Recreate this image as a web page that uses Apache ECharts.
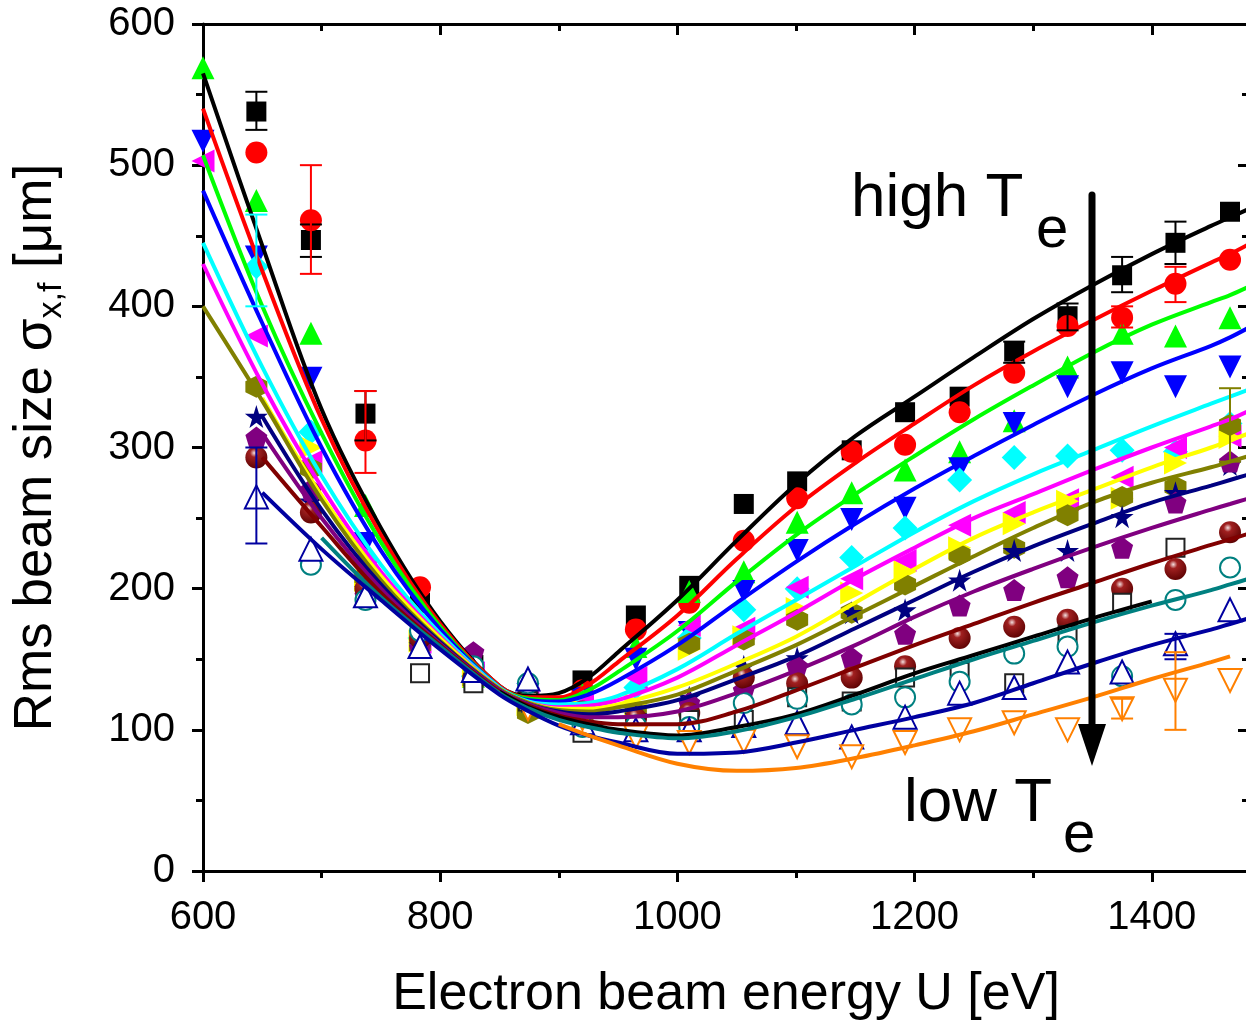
<!DOCTYPE html>
<html>
<head>
<meta charset="utf-8">
<script src="https://cdn.jsdelivr.net/npm/echarts@6/dist/echarts.min.js"></script>
<style>
  html, body { margin: 0; padding: 0; background: #fff; }
  #chart { width: 1246px; height: 1022px; }
</style>
</head>
<body>
<div id="chart"></div>
<script>
// measured beam energies (eV)
const energies = [600, 645, 691, 737, 783, 828, 874, 920, 965, 1010, 1056, 1101, 1147, 1192, 1238, 1284, 1329, 1375, 1420, 1466]

// measured rms beam size (um), one list per electron temperature
const sqBlack    = [null, 538, 447, 324, 190, 146, 124, 135, 181, 202, 260, 276, 298, 325, 336, 368, 393, 422, 445, 467]
const circRed    = [null, 509, 461, 305, 201, 142, 122, 128, 171, 190, 234, 264, 297, 302, 325, 353, 386, 392, 416, 433]
const triGreen   = [569, 475, 381, 259, 172, 138, 124, 125, 159, 198, 212, 247, 268, 284, 297, 319, 357, 381, 379, 392]
const triBlue    = [517, 435, 349, 232, 168, 140, 125, 122, 150, 169, 198, 227, 249, 257, 285, 317, 343, 353, 343, 357]
const diaCyan    = [null, 428, 311, 220, 165, 138, 123, 120, 130, 165, 185, 200, 222, 243, 277, 293, 294, 298, 297, 317]
const triMagenta = [503, 379, 290, 212, 162, 140, 122, 118, 137, 174, 172, 201, 207, 220, 245, 254, 263, 279, 300, 308]
const triYellow  = [null, null, 300, 206, 163, 138, 118, 114, 118, 157, 166, 186, 197, 212, 229, 246, 262, 264, 289, 307]
const hexOlive   = [null, 343, 285, 208, 160, 135, 112, 110, 112, 161, 164, 178, 183, 203, 224, 229, 252, 265, 272, 316]
const starNavy   = [null, 322, 262, 200, 160, 135, 120, 108, 110, 123, 145, 151, 183, 185, 206, 227, 227, 251, 268, 288]
const pentPurple = [null, 307, 270, 195, 158, 155, 125, 112, 106, 119, 128, 145, 151, 168, 188, 199, 208, 229, 261, 290]
const sphMaroon  = [null, 293, 254, 200, 165, 137, 123, 113, 108, 112, 137, 133, 137, 145, 165, 173, 178, 200, 214, 240]
const sqOpen     = [null, null, null, null, 140, 133, 120, 98, 102, 107, 107, 123, 120, 137, 141, 133, 167, 190, 229, null]
const circTeal   = [null, null, 217, 192, 170, 145, 133, 102, 103, 102, 119, 122, 118, 123, 134, 154, 159, 138, 192, 215]
const triOpen    = [null, 265, 228, 195, 159, 142, 136, 105, 100, 100, 103, 105, 95, 109, 126, 130, 148, 141, 161, 185]
const triOrange  = [null, null, null, null, null, null, 115, 108, 95, 91, 92, 88, 81, 91, 100, 105, 100, 115, 128, 135]

// error bars: [series index, energy index, low, high]
const errorBars = [
  [0, 1, 525, 552], [0, 2, 435, 458], [0, 3, 305, 340], [0, 15, 360, 375], [0, 16, 383, 402], [0, 17, 410, 435], [0, 18, 430, 460],
  [1, 2, 423, 500], [1, 3, 282, 340], [1, 17, 385, 400], [1, 18, 403, 428],
  [4, 1, 400, 465],
  [7, 19, 290, 342],
  [13, 1, 232, 300], [13, 18, 150, 168],
  [14, 17, 108, 122], [14, 18, 100, 155]
]

// model curves
const fitEnergies = [600, 650, 700, 750, 800, 850, 875, 900, 925, 950, 1000, 1050, 1100, 1150, 1200, 1250, 1300, 1350, 1400, 1450, 1466, 1482]
const fitBlack    = [565, 443, 327, 243, 177, 131, 124, 126, 137, 155, 192, 234, 274, 308, 336, 364, 391, 415, 437, 457, 463, 469]
const fitRed      = [540, 425, 320, 238, 175, 131, 123, 123, 132, 148, 181, 221, 258, 289, 317, 344, 368, 390, 411, 431, 437, 444]
const fitGreen    = [507, 400, 310, 233, 173, 130, 122, 121, 128, 141, 170, 205, 238, 267, 294, 320, 344, 367, 387, 403, 408, 414]
const fitBlue     = [482, 388, 300, 227, 171, 130, 121, 120, 125, 135, 160, 190, 219, 246, 271, 294, 316, 337, 356, 372, 378, 385]
const fitCyan     = [445, 357, 280, 217, 168, 130, 120, 118, 119, 124, 143, 168, 192, 216, 240, 262, 281, 298, 315, 331, 336, 341]
const fitMagenta  = [430, 345, 272, 212, 166, 129, 119, 116, 117, 121, 137, 160, 183, 207, 229, 250, 267, 284, 300, 315, 320, 326]
const fitYellow   = [null, 335, 266, 209, 165, 129, 119, 115, 115, 118, 130, 147, 166, 190, 214, 236, 254, 270, 286, 300, 305, 310]
const fitOlive    = [400, 333, 263, 206, 163, 129, 119, 114, 113, 116, 125, 142, 160, 181, 202, 223, 243, 261, 275, 286, 290, 294]
const fitNavy     = [null, 322, 256, 203, 162, 128, 118, 113, 111, 113, 121, 136, 152, 172, 192, 212, 230, 246, 261, 273, 277, 281]
const fitPurple   = [null, 310, 250, 200, 161, 128, 118, 112, 109, 109, 113, 126, 142, 160, 180, 198, 214, 229, 243, 256, 260, 264]
const fitMaroon   = [null, 293, 244, 197, 160, 127, 117, 110, 106, 104, 104, 113, 128, 144, 160, 175, 190, 204, 218, 231, 235, 239]
const fitBlack2   = [null, null, null, null, null, 127, 116, 109, 104, 100, 96, 102, 111, 125, 140, 153, 166, 179, 191, null, null, null]
const fitTeal     = [null, null, 236, 194, 159, 126, 115, 107, 102, 98, 94, 99, 109, 122, 136, 150, 163, 176, 188, 199, 203, 207]
const fitDarkBlue = [null, 268, 228, 192, 157, 125, 113, 103, 96, 91, 83, 84, 91, 100, 109, 119, 133, 147, 160, 171, 175, 179]
const fitOrange   = [null, null, null, null, null, null, null, 104, 96, 89, 76, 71, 73, 80, 89, 99, 111, 123, 136, 148, 152, null]

const hexagon = 'path://M50,0 L93,25 L93,75 L50,100 L7,75 L7,25 Z'
const star = 'path://M50,0 L61,35 L98,35 L68,57 L79,91 L50,70 L21,91 L32,57 L2,35 L39,35 Z'
const pentagon = 'path://M50,0 L98,36 L80,95 L20,95 L2,36 Z'
const sphere = {
  type: 'radial', x: 0.4, y: 0.3, r: 0.75,
  colorStops: [{ offset: 0, color: '#f4e0e0' }, { offset: 0.25, color: '#a02020' }, { offset: 1, color: '#5a0000' }]
}

const markerSets = [
  { data: sqBlack, symbol: 'rect', color: '#000000', size: 20 },
  { data: circRed, symbol: 'circle', color: '#ff0000', size: 22 },
  { data: triGreen, symbol: 'triangle', color: '#00ff00', size: 23 },
  { data: triBlue, symbol: 'triangle', rotate: 180, color: '#0000ff', size: 23 },
  { data: diaCyan, symbol: 'diamond', color: '#00ffff', size: 25 },
  { data: triMagenta, symbol: 'triangle', rotate: 90, color: '#ff00ff', size: 23 },
  { data: triYellow, symbol: 'triangle', rotate: -90, color: '#ffff00', size: 23 },
  { data: hexOlive, symbol: hexagon, color: '#808000', size: 22 },
  { data: starNavy, symbol: star, color: '#000080', size: 23 },
  { data: pentPurple, symbol: pentagon, color: '#800080', size: 22 },
  { data: sphMaroon, symbol: 'circle', color: '#800000', fill: sphere, size: 22 },
  { data: sqOpen, symbol: 'rect', color: '#222222', hollow: true, size: 18 },
  { data: circTeal, symbol: 'circle', color: '#008080', hollow: true, size: 20 },
  { data: triOpen, symbol: 'triangle', color: '#0000a0', hollow: true, size: 23 },
  { data: triOrange, symbol: 'triangle', rotate: 180, color: '#ff8000', hollow: true, size: 23 }
]

const fitSets = [
  { data: fitBlack, color: '#000000' },
  { data: fitRed, color: '#ff0000' },
  { data: fitGreen, color: '#00ff00' },
  { data: fitBlue, color: '#0000ff' },
  { data: fitCyan, color: '#00ffff' },
  { data: fitMagenta, color: '#ff00ff' },
  { data: fitYellow, color: '#ffff00' },
  { data: fitOlive, color: '#808000' },
  { data: fitNavy, color: '#000080' },
  { data: fitPurple, color: '#800080' },
  { data: fitMaroon, color: '#800000' },
  { data: fitBlack2, color: '#000000' },
  { data: fitTeal, color: '#008080' },
  { data: fitDarkBlue, color: '#0000a0' },
  { data: fitOrange, color: '#ff8000' }
]

const font = "'Liberation Sans', Arial, Helvetica, sans-serif"

const pairs = (xsArr, ys) => xsArr.map((x, i) => [x, ys[i]]).filter(p => p[1] != null)

const scatterSeries = markerSets.map(m => ({
  type: 'scatter',
  symbol: m.symbol,
  symbolSize: m.size,
  symbolRotate: m.rotate || 0,
  z: 2,
  silent: true,
  itemStyle: m.hollow
    ? { color: '#ffffff', borderColor: m.color, borderWidth: 2, opacity: 1 }
    : { color: m.fill || m.color, opacity: 1 },
  data: pairs(energies, m.data)
}))

const lineSeries = fitSets.map(f => ({
  type: 'line',
  smooth: 0.35,
  showSymbol: false,
  z: 3,
  silent: true,
  lineStyle: { color: f.color, width: 4 },
  data: pairs(fitEnergies, f.data)
}))

const errorSeries = {
  type: 'custom',
  z: 4,
  silent: true,
  renderItem(params, api) {
    const lo = api.coord([api.value(0), api.value(1)])
    const hi = api.coord([api.value(0), api.value(2)])
    const c = markerSets[api.value(3)].color
    const st = { stroke: c, lineWidth: 2 }
    return {
      type: 'group',
      children: [
        { type: 'line', shape: { x1: lo[0], y1: lo[1], x2: hi[0], y2: hi[1] }, style: st },
        { type: 'line', shape: { x1: lo[0] - 11, y1: lo[1], x2: lo[0] + 11, y2: lo[1] }, style: st },
        { type: 'line', shape: { x1: hi[0] - 11, y1: hi[1], x2: hi[0] + 11, y2: hi[1] }, style: st }
      ]
    }
  },
  encode: { x: 0, y: [1, 2] },
  data: errorBars.map(e => [energies[e[1]], e[2], e[3], e[0]])
}

const axisLine = { show: true, onZero: false, lineStyle: { color: '#000', width: 3 } }

const chart = echarts.init(document.getElementById('chart'), null, { renderer: 'canvas' })

chart.setOption({
  backgroundColor: '#ffffff',
  animation: false,
  grid: { left: 203, top: 24, width: 1046, height: 847, outerBoundsMode: 'none', containLabel: false },
  xAxis: [
    {
      type: 'value', min: 600, max: 1482, interval: 200,
      axisLine,
      axisTick: { show: true, inside: false, length: 11, lineStyle: { width: 3 } },
      minorTick: { show: true, splitNumber: 2, length: 7, lineStyle: { color: '#000', width: 3 } },
      splitLine: { show: false },
      axisLabel: {
        margin: 27, fontSize: 40, color: '#000', fontFamily: font, showMaxLabel: false,
        formatter: v => (v % 200 === 0 ? String(v) : '')
      },
      name: 'Electron beam energy U [eV]',
      nameLocation: 'middle',
      nameGap: 98,
      nameTextStyle: { fontSize: 52, color: '#000', fontFamily: font }
    },
    {
      type: 'value', position: 'top', min: 600, max: 1482, interval: 200,
      axisLine,
      axisTick: { show: true, inside: true, length: 11, lineStyle: { width: 3 } },
      minorTick: { show: true, splitNumber: 2, length: 7, lineStyle: { color: '#000', width: 3 } },
      splitLine: { show: false },
      axisLabel: { show: false }
    }
  ],
  yAxis: [
    {
      type: 'value', min: 0, max: 600, interval: 100,
      axisLine,
      axisTick: { show: true, inside: false, length: 11, lineStyle: { width: 3 } },
      minorTick: { show: true, splitNumber: 2, length: 7, lineStyle: { color: '#000', width: 3 } },
      splitLine: { show: false },
      axisLabel: { margin: 28, fontSize: 40, color: '#000', fontFamily: font },
      name: '{a|Rms beam size σ}{s|x,f}{a| [μm]}',
      nameLocation: 'middle',
      nameGap: 134,
      nameTextStyle: {
        color: '#000', fontFamily: font,
        rich: {
          a: { fontSize: 53, lineHeight: 66, fontFamily: font, color: '#000' },
          s: { fontSize: 34, lineHeight: 24, verticalAlign: 'bottom', fontFamily: font, color: '#000' }
        }
      }
    },
    {
      type: 'value', position: 'right', min: 0, max: 600, interval: 100,
      axisLine,
      axisTick: { show: true, inside: true, length: 11, lineStyle: { width: 3 } },
      minorTick: { show: true, splitNumber: 2, length: 7, lineStyle: { color: '#000', width: 3 } },
      splitLine: { show: false },
      axisLabel: { show: false }
    }
  ],
  graphic: [
    { type: 'line', shape: { x1: 1092, y1: 195, x2: 1092, y2: 730 }, style: { stroke: '#000', lineWidth: 7, lineCap: 'round' }, z: 10 },
    { type: 'polygon', shape: { points: [[1078, 724], [1106, 724], [1092, 766]] }, style: { fill: '#000' }, z: 10 },
    { type: 'text', left: 851, top: 168, style: { text: 'high T', font: '62px ' + font, fill: '#000' }, z: 10 },
    { type: 'text', left: 1036, top: 202, style: { text: 'e', font: '58px ' + font, fill: '#000' }, z: 10 },
    { type: 'text', left: 904, top: 773, style: { text: 'low T', font: '62px ' + font, fill: '#000' }, z: 10 },
    { type: 'text', left: 1063, top: 807, style: { text: 'e', font: '58px ' + font, fill: '#000' }, z: 10 }
  ],
  series: [...scatterSeries, errorSeries, ...lineSeries]
})
</script>
</body>
</html>
